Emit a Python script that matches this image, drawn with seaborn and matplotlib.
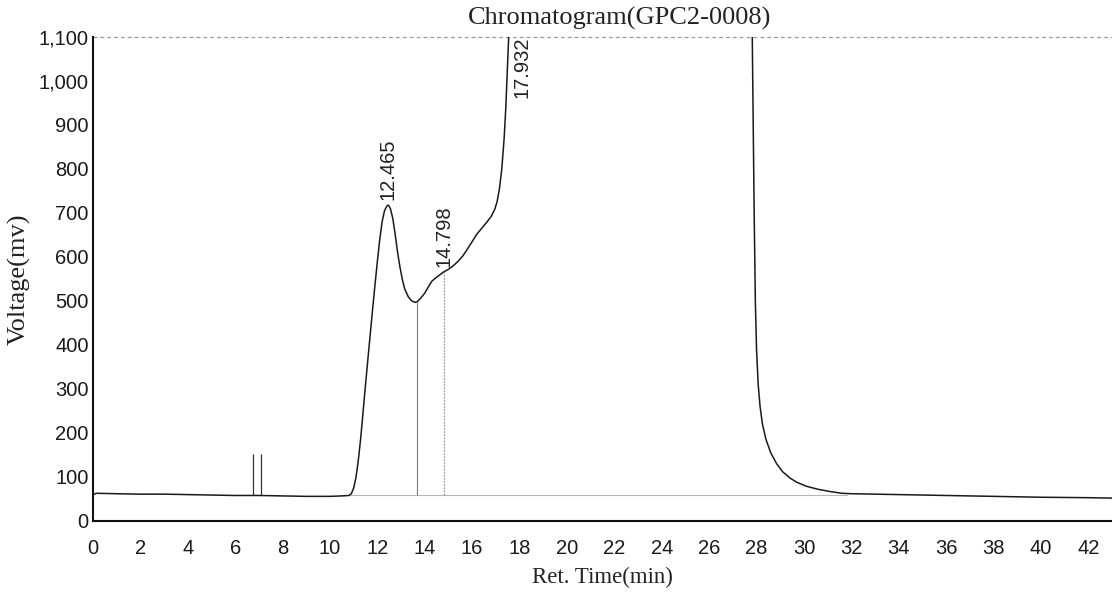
import numpy as np
import pandas as pd
import matplotlib
matplotlib.use("Agg")
import matplotlib.pyplot as plt
import matplotlib.ticker as mticker
import seaborn as sns

# Detector trace: retention time (min) and voltage (mV)
ret_time = [0.0, 0.15, 1.0, 2.0, 3.0, 4.0, 5.0, 6.0, 7.0, 8.0, 9.0, 10.0, 10.5,
            10.8, 10.9, 11.0, 11.1, 11.2, 11.3, 11.4, 11.5, 11.6, 11.7, 11.8, 11.9,
            12.0, 12.1, 12.2, 12.3, 12.4, 12.465, 12.55, 12.65, 12.75, 12.85, 12.95,
            13.05, 13.15, 13.3, 13.45, 13.6, 13.7, 13.85, 14.0, 14.15, 14.3, 14.45,
            14.6, 14.798, 15.0, 15.2, 15.4, 15.6, 15.8, 16.0, 16.2, 16.4, 16.6, 16.8,
            16.95, 17.05, 17.15, 17.25, 17.35, 17.42, 17.48, 17.55, 17.7, 18.0,
            27.6, 27.78, 27.82, 27.86, 27.9, 27.95, 28.0, 28.07, 28.15, 28.25, 28.4,
            28.6, 28.85, 29.1, 29.4, 29.7, 30.1, 30.6, 31.1, 31.6, 32.0, 33.0, 34.0,
            36.0, 38.0, 40.0, 42.0, 43.0]
voltage = [60, 63, 62, 61, 61, 60, 59, 58, 58, 57, 56, 56, 57,
           58, 62, 75, 100, 140, 190, 250, 310, 368, 425, 482, 537,
           590, 640, 680, 705, 716, 718, 710, 688, 652, 612, 578,
           550, 528, 510, 500, 497, 499, 508, 518, 532, 545, 552,
           558, 566, 572, 580, 590, 602, 618, 635, 652, 665, 678, 692,
           708, 725, 755, 800, 870, 940, 1020, 1110, 1300, 1500,
           1500, 1300, 1100, 900, 700, 500, 390, 310, 260, 220, 185,
           155, 130, 112, 98, 88, 79, 72, 67, 63, 62, 61, 60,
           58, 56, 54, 53, 52]

# Injection event markers
event_times = [6.75, 7.1]
event_top = [153, 153]

# Integration baseline and peak labels
baseline_start = 10.8
baseline_end = 31.8
baseline_level = 58
valley_time = 13.66
peak_times = [12.465, 14.798, 17.932]
peak_labels = ["12.465", "14.798", "17.932"]

x_ticks = list(range(0, 43, 2))
y_ticks = list(range(0, 1101, 100))

df = pd.DataFrame({"Ret. Time(min)": ret_time, "Voltage(mv)": voltage})

sns.set_theme(style="white")
plt.rcParams["font.family"] = ["Liberation Sans", "DejaVu Sans"]

fig = plt.figure(figsize=(11.12, 6.04), dpi=100)
ax = fig.add_axes([93 / 1112, 1 - 521 / 604, 1 - 93 / 1112, (521 - 37) / 604])

# Baseline and drop lines
ax.plot([baseline_start, baseline_end], [baseline_level, baseline_level],
        color="#b5b5b5", lw=0.8, zorder=1)
valley_v = float(np.interp(valley_time, ret_time, voltage))
ax.vlines(valley_time, baseline_level, valley_v, color="#7a7a7a", lw=0.8, zorder=1)
shoulder_v = float(np.interp(peak_times[1], ret_time, voltage))
ax.vlines(peak_times[1], baseline_level, shoulder_v, color="#9a9a9a", lw=0.9,
          linestyles=(0, (1.5, 1)), zorder=1)

ax.vlines(event_times, baseline_level, event_top, color="#333333", lw=0.9, zorder=2)

sns.lineplot(data=df, x="Ret. Time(min)", y="Voltage(mv)", ax=ax, color="#1a1a1a",
             lw=1.1, sort=False, zorder=3)

ax.axhline(1100, color="#9a9a9a", lw=0.9, ls=(0, (3, 2.5)), zorder=1, clip_on=False)

# Peak retention-time labels
label_kw = dict(rotation=90, ha="center", fontsize=14.5, color="#222222")
for t, lab in zip(peak_times[:2], peak_labels[:2]):
    v = float(np.interp(t, ret_time, voltage))
    ax.text(t, v + 12, lab, va="bottom", **label_kw)
ax.text(peak_times[2] + 0.15, 1100, peak_labels[2], va="top", **label_kw)

ax.set_xlim(0, 43)
ax.set_ylim(0, 1100)
ax.set_xticks(x_ticks)
ax.set_yticks(y_ticks)
ax.yaxis.set_major_formatter(mticker.FuncFormatter(lambda v, p: f"{int(v):,}"))
ax.tick_params(axis="both", length=0, labelsize=14.5, colors="#1a1a1a")
ax.tick_params(axis="x", pad=13)
ax.tick_params(axis="y", pad=3)

for side in ("top", "right"):
    ax.spines[side].set_visible(False)
for side in ("left", "bottom"):
    ax.spines[side].set_color("#111111")
    ax.spines[side].set_linewidth(1.5)

serif = ["Liberation Serif", "DejaVu Serif"]
ax.set_xlabel("Ret. Time(min)", family=serif, fontsize=16.5, labelpad=6, color="#222222")
ax.set_ylabel("Voltage(mv)", family=serif, fontsize=19, labelpad=6, color="#222222")
fig.text(620 / 1112, 1 - 18 / 604, "Chromatogram(GPC2-0008)", family=serif,
         fontsize=19, ha="center", va="center", color="#222222")

fig.savefig("out.png", dpi=100, facecolor="white")
